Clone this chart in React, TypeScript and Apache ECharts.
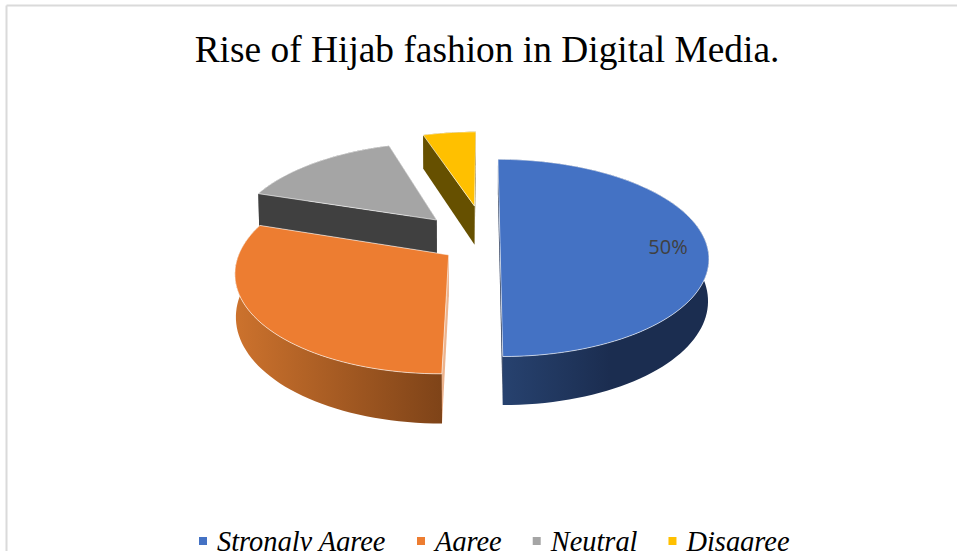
import React, { useEffect, useRef } from "react";
import * as echarts from "echarts";

const categories = ["Strongly Agree", "Agree", "Neutral", "Disagree"];
const values = [50, 30, 15, 5];
const labelled = [true, false, false, false];

const topColors = ["#4472C4", "#ED7D31", "#A5A5A5", "#FFC000"];
const cutColors = ["#1B2D50", "#EDB48E", "#404040", "#665000"];
const explode = [15, 44, 71, 84];
const nudgeX = [0, 0, 0, 2];
const paintOrder = [3, 2, 0, 1];

const CX = 485, CY = 242.6, R = 206, TILT = 0.467, PERSP = 0.000755, DEPTH = 41, BOTTOM_SCALE = 0.996;

const total = values.reduce((a, b) => a + b, 0);

function project(wx: number, wy: number, bottom: boolean): number[] {
  const p = 1 / (1 + PERSP * wy);
  const x = wx * p * (bottom ? BOTTOM_SCALE : 1);
  const y = -TILT * wy * p + (bottom ? DEPTH * p : 0);
  return [CX + x, CY + y];
}

function wallFill(i: number): any {
  if (i === 0)
    return new echarts.graphic.LinearGradient(503, 0, 610, 0, [
      { offset: 0, color: "#27426F" },
      { offset: 1, color: "#1B2D50" },
    ], true);
  if (i === 1)
    return new echarts.graphic.LinearGradient(236, 0, 443, 0, [
      { offset: 0, color: "#CC722D" },
      { offset: 1, color: "#7E4318" },
    ], true);
  return cutColors[i];
}

function makeRender(i: number) {
  return (_params: any, api: any) => {
    const value = api.value(0) as number;
    const before = values.slice(0, i).reduce((a, b) => a + b, 0);
    const a0 = (before / total) * Math.PI * 2;
    const a1 = ((before + value) / total) * Math.PI * 2;
    const mid = (a0 + a1) / 2;
    const ex = explode[i] * Math.sin(mid) + nudgeX[i];
    const ey = explode[i] * Math.cos(mid);
    const n = Math.max(8, Math.round(((a1 - a0) * 180) / Math.PI / 2));
    const rimTop: number[][] = [];
    const rimBottom: number[][] = [];
    for (let k = 0; k <= n; k++) {
      const t = a0 + ((a1 - a0) * k) / n;
      const wx = ex + R * Math.sin(t);
      const wy = ey + R * Math.cos(t);
      rimTop.push(project(wx, wy, false));
      rimBottom.push(project(wx, wy, true));
    }
    const apexTop = project(ex, ey, false);
    const apexBottom = project(ex, ey, true);
    const cutFace = (idx: number) => ({
      type: "polygon",
      shape: { points: [apexTop, rimTop[idx], rimBottom[idx], apexBottom] },
      style: { fill: cutColors[i] },
    });
    const children: any[] = [
      { type: "polygon", shape: { points: rimTop.concat(rimBottom.slice().reverse()) }, style: { fill: wallFill(i) } },
      cutFace(n),
      cutFace(0),
      {
        type: "polygon",
        shape: { points: [apexTop].concat(rimTop) },
        style: { fill: topColors[i], stroke: "rgba(255,255,255,0.6)", lineWidth: 1 },
      },
    ];
    if (labelled[i]) {
      children.push({
        type: "text",
        x: 668,
        y: 246,
        style: {
          text: `${Math.round((value / total) * 100)}%`,
          fontFamily: "Open Sans",
          fontSize: 20,
          fill: "#404040",
          align: "center",
          verticalAlign: "middle",
        },
      });
    }
    return { type: "group", children };
  };
}

export default function App() {
  const ref = useRef<HTMLDivElement>(null);
  useEffect(() => {
    document.body.style.margin = "0";
    const chart = echarts.init(ref.current!, null, { renderer: "svg" });
    chart.setOption({
      animation: false,
      backgroundColor: "#ffffff",
      title: {
        text: "Rise of Hijab fashion in Digital Media.",
        left: 482,
        top: 26,
        textAlign: "center",
        textStyle: { fontFamily: "Liberation Serif", fontSize: 37.4, fontWeight: "normal", color: "#000000" },
      },
      legend: {
        data: categories,
        left: 199,
        top: 527,
        padding: 0,
        icon: "rect",
        itemWidth: 8,
        itemHeight: 8,
        itemGap: 31,
        selectedMode: false,
        textStyle: {
          fontFamily: "Liberation Serif",
          fontStyle: "italic",
          fontSize: 28.4,
          color: "#000000",
          padding: [0, 0, 0, 5],
        },
      },
      graphic: [
        { type: "line", shape: { x1: 6.5, y1: 5.5, x2: 957, y2: 5.5 }, style: { stroke: "#DADADA", lineWidth: 2 } },
        { type: "line", shape: { x1: 6.5, y1: 5.5, x2: 6.5, y2: 551 }, style: { stroke: "#DADADA", lineWidth: 2 } },
      ],
      series: paintOrder.map((i) => ({
        type: "custom",
        name: categories[i],
        coordinateSystem: "none",
        itemStyle: { color: topColors[i] },
        data: [[values[i]]],
        renderItem: makeRender(i),
        z: 2,
      })),
    });
    return () => chart.dispose();
  }, []);
  return <div ref={ref} style={{ width: 957, height: 551, position: "absolute", left: 0, top: 0 }} />;
}
